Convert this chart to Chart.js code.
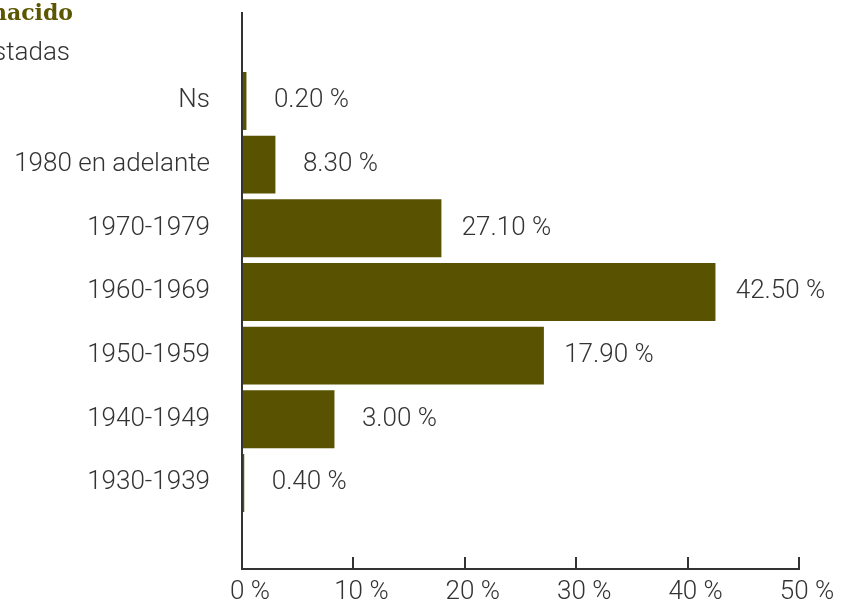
<!DOCTYPE html>
<html>
<head>
<meta charset="utf-8">
<script src="https://cdn.jsdelivr.net/npm/chart.js@4"></script>
<style>
    html, body { margin: 0; padding: 0; background: #ffffff; }
    #wrap { width: 841px; height: 600px; position: relative; }
</style>
</head>
<body>
<div id="wrap"><canvas id="birthChart" width="841" height="600"></canvas></div>
<script>
const categories = ['Ns', '1980 en adelante', '1970-1979', '1960-1969', '1950-1959', '1940-1949', '1930-1939'];
// bar lengths as drawn in the picture
const barValues = [0.4, 3.0, 17.9, 42.5, 27.1, 8.3, 0.2];
// value labels as printed next to each bar
const valueLabels = ['0.20 %', '8.30 %', '27.10 %', '42.50 %', '17.90 %', '3.00 %', '0.40 %'];
const xTicks = [0, 10, 20, 30, 40, 50];
const titleText = 'Año en que ha nacido';
const subtitleText = 'Personas encuestadas';

const BAR_COLOR = '#595200';
const TEXT_COLOR = '#333333';
const TITLE_COLOR = '#5c5600';
const LABEL_FONT = '300 26px Roboto, "Liberation Sans", sans-serif';

const valueLabelPlugin = {
    id: 'valueLabels',
    afterDatasetsDraw(chart) {
        const ctx = chart.ctx;
        const meta = chart.getDatasetMeta(0);
        ctx.save();
        ctx.font = LABEL_FONT;
        ctx.fillStyle = TEXT_COLOR;
        ctx.textAlign = 'center';
        ctx.textBaseline = 'middle';
        meta.data.forEach((bar, i) => {
            ctx.fillText(valueLabels[i], bar.x + 65, bar.y);
        });
        ctx.restore();
    }
};

const headerPlugin = {
    id: 'header',
    afterDraw(chart) {
        const ctx = chart.ctx;
        ctx.save();
        ctx.textAlign = 'right';
        ctx.textBaseline = 'alphabetic';
        ctx.fillStyle = TITLE_COLOR;
        ctx.font = 'bold 22px "DejaVu Serif", serif';
        ctx.fillText(titleText, 73, 20);
        ctx.fillStyle = TEXT_COLOR;
        ctx.font = LABEL_FONT;
        ctx.fillText(subtitleText, 70, 60);
        ctx.restore();
    }
};

const ctx = document.getElementById('birthChart').getContext('2d');
new Chart(ctx, {
    type: 'bar',
    data: {
        datasets: [{
            data: barValues.map((v, i) => ({ x: v, y: i })),
            backgroundColor: BAR_COLOR,
            borderWidth: 0,
            barPercentage: 0.91,
            categoryPercentage: 1.0
        }]
    },
    options: {
        indexAxis: 'y',
        responsive: false,
        animation: false,
        layout: { padding: { top: 13, right: 42, left: 0, bottom: 0 } },
        plugins: {
            legend: { display: false },
            tooltip: { enabled: false }
        },
        scales: {
            x: {
                type: 'linear',
                min: 0,
                max: 50,
                afterBuildTicks: (scale) => {
                    scale.ticks = xTicks.map(v => ({ value: v }));
                },
                afterFit: (scale) => {
                    scale.height = 31;
                    scale.paddingLeft = 0;
                    scale.paddingRight = 0;
                },
                border: { display: true, color: TEXT_COLOR, width: 2 },
                grid: {
                    display: true,
                    drawOnChartArea: false,
                    drawTicks: true,
                    tickLength: -12,
                    color: TEXT_COLOR,
                    lineWidth: 2
                },
                ticks: {
                    color: TEXT_COLOR,
                    font: { family: 'Roboto', size: 26, weight: '300' },
                    padding: 20,
                    labelOffset: 8,
                    maxRotation: 0,
                    callback: (v) => v + ' %'
                }
            },
            y: {
                type: 'linear',
                reverse: true,
                offset: false,
                bounds: 'data',
                min: -1.382,
                max: 7.351,
                afterBuildTicks: (scale) => {
                    scale.ticks = categories.map((c, i) => ({ value: i }));
                },
                afterFit: (scale) => {
                    scale.width = 242;
                    scale.paddingTop = 0;
                    scale.paddingBottom = 0;
                },
                border: { display: true, color: TEXT_COLOR, width: 2 },
                grid: { display: false, drawTicks: false, offset: false },
                ticks: {
                    color: TEXT_COLOR,
                    font: { family: 'Roboto', size: 26, weight: '300' },
                    padding: 32,
                    autoSkip: false,
                    callback: (v) => categories[v] !== undefined ? categories[v] : ''
                }
            }
        }
    },
    plugins: [valueLabelPlugin, headerPlugin]
});
</script>
</body>
</html>
